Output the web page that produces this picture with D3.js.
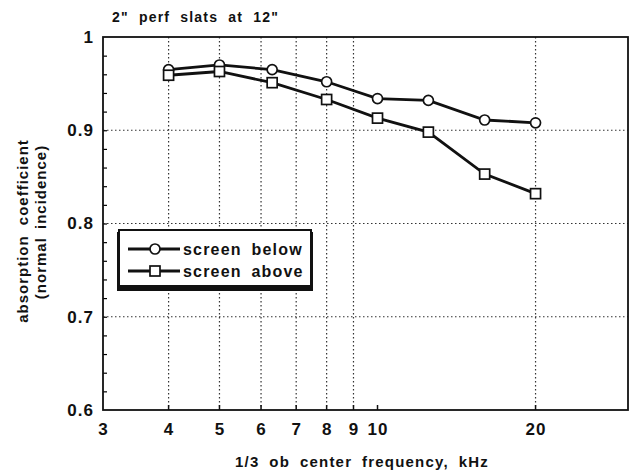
<!DOCTYPE html>
<html>
<head>
<meta charset="utf-8">
<script src="https://cdn.jsdelivr.net/npm/d3@7"></script>
<style>
  body { margin: 0; background: #fff; }
  text { font-family: "Liberation Sans", Arial, sans-serif; font-weight: bold; fill: #111; }
</style>
</head>
<body>
<svg width="630" height="474"></svg>
<script>
// 1/3 octave centre frequencies, kHz
var freqs = [4, 5, 6.3, 8, 10, 12.5, 16, 20];
var screenBelow = [0.965, 0.970, 0.965, 0.952, 0.934, 0.932, 0.911, 0.908];
var screenAbove = [0.959, 0.963, 0.951, 0.933, 0.913, 0.898, 0.853, 0.832];
var xTicks = [3, 4, 5, 6, 7, 8, 9, 10, 20];
var xGrid = [4, 5, 6, 7, 8, 9, 20];
var yTicks = [0.6, 0.7, 0.8, 0.9, 1];

var svg = d3.select("svg");
var margin = {top: 37, right: 2, bottom: 64, left: 103};
var width = 630 - margin.left - margin.right,
    height = 474 - margin.top - margin.bottom;

var g = svg.append("g").attr("transform", "translate(" + margin.left + "," + margin.top + ")");

var x = d3.scaleLog().domain([3, 30]).range([0, width]);
var y = d3.scaleLinear().domain([0.6, 1]).range([height, 0]);

// dotted grid
g.selectAll(".vgrid").data(xGrid).enter().append("line")
  .attr("x1", function(d) { return x(d); }).attr("x2", function(d) { return x(d); })
  .attr("y1", 0).attr("y2", height)
  .attr("stroke", "#333").attr("stroke-width", 1.2).attr("stroke-dasharray", "1.5,2.5");
g.selectAll(".hgrid").data([0.7, 0.8, 0.9]).enter().append("line")
  .attr("x1", 0).attr("x2", width)
  .attr("y1", function(d) { return y(d); }).attr("y2", function(d) { return y(d); })
  .attr("stroke", "#333").attr("stroke-width", 1.2).attr("stroke-dasharray", "1.5,2.5");

// axes (ticks inward)
var yMinor = d3.range(0.62, 1.0, 0.02);
g.append("g")
  .call(d3.axisLeft(y).tickValues(yMinor).tickSize(-4).tickFormat(""))
  .call(function(s) { s.select(".domain").remove(); s.selectAll("line").attr("stroke-width", 1.2); });
g.append("g")
  .call(d3.axisBottom(x).tickValues(xTicks).tickSize(0).tickPadding(13).tickFormat(d3.format("d")))
  .attr("transform", "translate(0," + height + ")")
  .call(function(s) {
    s.select(".domain").remove();
    s.selectAll("text").style("font-size", "17px").style("letter-spacing", "1px").attr("dy", "0.71em");
  });
g.selectAll(".xt").data(xTicks.slice(1)).enter().append("line")
  .attr("x1", function(d) { return x(d); }).attr("x2", function(d) { return x(d); })
  .attr("y1", height).attr("y2", height - 5)
  .attr("stroke", "#111").attr("stroke-width", 1.5);
g.append("g")
  .call(d3.axisLeft(y).tickValues(yTicks).tickSize(0).tickPadding(9).tickFormat(function(d) { return d === 1 ? "1" : d3.format(".1f")(d); }))
  .call(function(s) {
    s.select(".domain").remove();
    s.selectAll("text").style("font-size", "17px").style("letter-spacing", "1px");
  });

// frame
g.append("rect").attr("width", width).attr("height", height)
  .attr("fill", "none").attr("stroke", "#111").attr("stroke-width", 1.8);

// series
var line = d3.line().x(function(d) { return x(d[0]); }).y(function(d) { return y(d[1]); });
var below = freqs.map(function(f, i) { return [f, screenBelow[i]]; });
var above = freqs.map(function(f, i) { return [f, screenAbove[i]]; });

g.append("path").datum(below).attr("d", line).attr("fill", "none").attr("stroke", "#111").attr("stroke-width", 2.8);
g.append("path").datum(above).attr("d", line).attr("fill", "none").attr("stroke", "#111").attr("stroke-width", 2.8);

g.selectAll(".circ").data(below).enter().append("circle")
  .attr("cx", function(d) { return x(d[0]); }).attr("cy", function(d) { return y(d[1]); })
  .attr("r", 5).attr("fill", "#fff").attr("stroke", "#111").attr("stroke-width", 1.7);
g.selectAll(".sq").data(above).enter().append("rect")
  .attr("x", function(d) { return x(d[0]) - 5; }).attr("y", function(d) { return y(d[1]) - 5; })
  .attr("width", 10).attr("height", 10).attr("fill", "#fff").attr("stroke", "#111").attr("stroke-width", 1.7);

// legend
var lg = svg.append("g").attr("transform", "translate(118,230)");
lg.append("rect").attr("x", -1).attr("y", 2).attr("width", 196).attr("height", 59).attr("fill", "#111");
lg.append("rect").attr("x", 1).attr("y", 0).attr("width", 192).attr("height", 56)
  .attr("fill", "#fff").attr("stroke", "#111").attr("stroke-width", 2);
[["screen below", "c"], ["screen above", "s"]].forEach(function(it, i) {
  var yy = 19 + i * 22;
  lg.append("line").attr("x1", 10).attr("x2", 62).attr("y1", yy).attr("y2", yy)
    .attr("stroke", "#111").attr("stroke-width", 2.8);
  if (it[1] === "c")
    lg.append("circle").attr("cx", 37).attr("cy", yy).attr("r", 5).attr("fill", "#fff").attr("stroke", "#111").attr("stroke-width", 1.7);
  else
    lg.append("rect").attr("x", 32).attr("y", yy - 5).attr("width", 10).attr("height", 10).attr("fill", "#fff").attr("stroke", "#111").attr("stroke-width", 1.7);
  lg.append("text").attr("x", 65).attr("y", yy).attr("dy", "0.35em")
    .style("font-size", "16px").style("letter-spacing", "1.2px").style("word-spacing", "4px").text(it[0]);
});

// titles
svg.append("text").attr("x", 112).attr("y", 22)
  .style("font-size", "14px").style("letter-spacing", "1.2px").style("word-spacing", "5px")
  .text("2\" perf slats at 12\"");
svg.append("text").attr("x", 362).attr("y", 467).attr("text-anchor", "middle")
  .style("font-size", "15px").style("letter-spacing", "1.2px").style("word-spacing", "4.5px")
  .text("1/3 ob center frequency, kHz");
svg.append("text").attr("transform", "translate(28,231) rotate(-90)").attr("text-anchor", "middle")
  .style("font-size", "15px").style("letter-spacing", "1px").style("word-spacing", "5px")
  .text("absorption coefficient");
svg.append("text").attr("transform", "translate(46,222) rotate(-90)").attr("text-anchor", "middle")
  .style("font-size", "15px").style("letter-spacing", "1px").style("word-spacing", "3px")
  .text("(normal incidence)");
</script>
</body>
</html>
